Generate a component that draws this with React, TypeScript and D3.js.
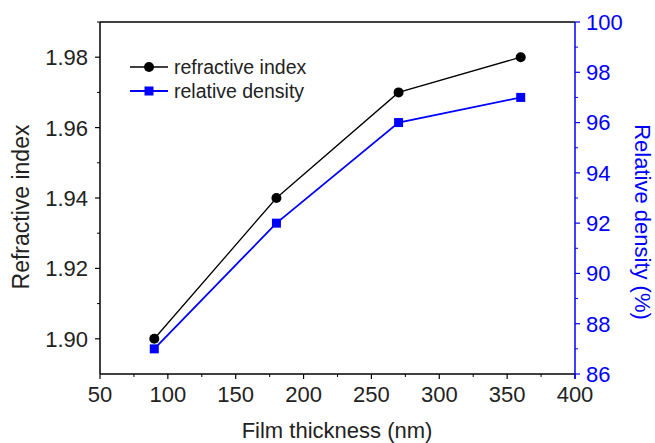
import React from "react";
import * as d3 from "d3";

const thickness = [90, 180, 270, 360];
const refractiveIndex = [1.9, 1.94, 1.97, 1.98];
const relativeDensity = [87, 92, 96, 97];
const xTicks = [50, 100, 150, 200, 250, 300, 350, 400];
const leftTicks = [1.9, 1.92, 1.94, 1.96, 1.98];
const rightTicks = [86, 88, 90, 92, 94, 96, 98, 100];

const W = 655, H = 443;
const L = 100, R = 575, T = 22, B = 374;
const BLUE = "#0000ff";
const FONT = "'Liberation Sans', Arial, sans-serif";
const TXT = "#222";

export default function App() {
  const x = d3.scaleLinear().domain([50, 400]).range([L, R]);
  const yL = d3.scaleLinear().domain([1.89, 1.99]).range([B, T]);
  const yR = d3.scaleLinear().domain([86, 100]).range([B, T]);

  const lineL = d3.line<number>().x((_, i) => x(thickness[i])).y((d) => yL(d));
  const lineR = d3.line<number>().x((_, i) => x(thickness[i])).y((d) => yR(d));

  const xMinor = d3.range(75, 400, 50);
  const leftMinor = d3.range(1.91, 1.99, 0.02);
  const rightMinor = d3.range(87, 100, 2);

  return (
    <svg width={W} height={H} style={{ position: "absolute", left: 0, top: 0, background: "#fff" }} fontFamily={FONT}>
      <line x1={L} x2={R} y1={T} y2={T} stroke="#000" strokeWidth={1.5} />
      <line x1={L} x2={L} y1={T} y2={B} stroke="#000" strokeWidth={1.5} />
      {leftTicks.map((t) => (
        <g key={t}>
          <line x1={L - 5} x2={L} y1={yL(t)} y2={yL(t)} stroke="#000" strokeWidth={1.2} />
          <text x={L - 12} y={yL(t)} dy="0.36em" textAnchor="end" fontSize={22} fill={TXT}>
            {t.toFixed(2)}
          </text>
        </g>
      ))}
      {leftMinor.map((t) => (
        <line key={t} x1={L - 3} x2={L} y1={yL(t)} y2={yL(t)} stroke="#000" strokeWidth={1} />
      ))}
      <line x1={L} x2={R} y1={B} y2={B} stroke="#000" strokeWidth={1.5} />
      {xTicks.map((t) => (
        <g key={t}>
          <line x1={x(t)} x2={x(t)} y1={B} y2={B + 5} stroke="#000" strokeWidth={1.2} />
          <text x={x(t)} y={B + 28} textAnchor="middle" fontSize={22} fill={TXT}>
            {t}
          </text>
        </g>
      ))}
      {xMinor.map((t) => (
        <line key={t} x1={x(t)} x2={x(t)} y1={B} y2={B + 3} stroke="#000" strokeWidth={1} />
      ))}
      <line x1={R} x2={R} y1={T} y2={B + 5} stroke={BLUE} strokeWidth={1.5} />
      {rightTicks.map((t) => (
        <g key={t}>
          <line x1={R} x2={R + 5} y1={yR(t)} y2={yR(t)} stroke={BLUE} strokeWidth={1.2} />
          <text x={R + 11} y={yR(t)} dy="0.36em" textAnchor="start" fontSize={22} fill={BLUE}>
            {t}
          </text>
        </g>
      ))}
      {rightMinor.map((t) => (
        <line key={t} x1={R} x2={R + 3} y1={yR(t)} y2={yR(t)} stroke={BLUE} strokeWidth={1} />
      ))}
      <text x={337} y={438} textAnchor="middle" fontSize={22} fill={TXT}>
        Film thickness (nm)
      </text>
      <text transform={`translate(29,207) rotate(-90)`} textAnchor="middle" fontSize={23} fill={TXT}>
        Refractive index
      </text>
      <text transform={`translate(635,222) rotate(90)`} textAnchor="middle" fontSize={22} fill={BLUE}>
        Relative density (%)
      </text>
      <path d={lineR(relativeDensity) || ""} fill="none" stroke={BLUE} strokeWidth={1.8} />
      {relativeDensity.map((v, i) => (
        <rect key={i} x={x(thickness[i]) - 4.5} y={yR(v) - 4.5} width={9} height={9} fill={BLUE} />
      ))}
      <path d={lineL(refractiveIndex) || ""} fill="none" stroke="#000" strokeWidth={1.3} />
      {refractiveIndex.map((v, i) => (
        <circle key={i} cx={x(thickness[i])} cy={yL(v)} r={5} fill="#000" />
      ))}
      <line x1={130} x2={168} y1={67} y2={67} stroke="#000" strokeWidth={1.3} />
      <circle cx={149} cy={67} r={5} fill="#000" />
      <text x={174} y={67} dy="0.36em" fontSize={19.5} fill={TXT}>refractive index</text>
      <line x1={130} x2={168} y1={91} y2={91} stroke={BLUE} strokeWidth={1.8} />
      <rect x={144.5} y={86.5} width={9} height={9} fill={BLUE} />
      <text x={174} y={91} dy="0.36em" fontSize={19.5} fill={TXT}>relative density</text>
    </svg>
  );
}
